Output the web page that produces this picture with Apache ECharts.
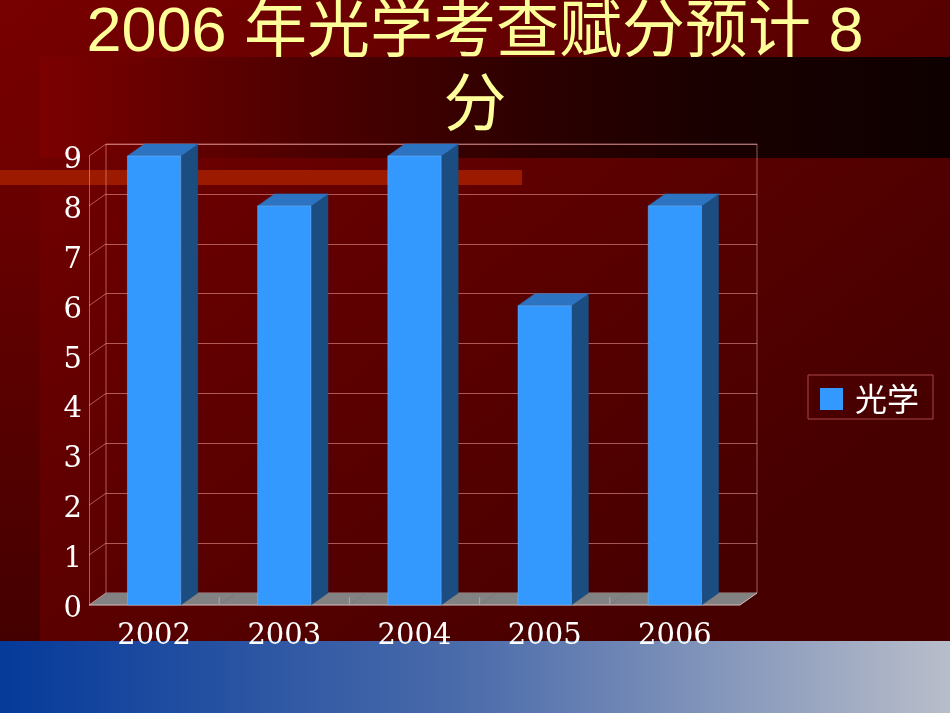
<!DOCTYPE html>
<html>
<head>
<meta charset="utf-8">
<script src="https://cdn.jsdelivr.net/npm/echarts@6/dist/echarts.min.js"></script>
<style>
html,body{margin:0;padding:0;background:#5a0000;}
#c{width:950px;height:713px;}
</style>
</head>
<body>
<div id="c"></div>
<script>
var titleText = '2006 年光学考查赋分预计 8\n分';
var categories = ['2002', '2003', '2004', '2005', '2006'];
var values = [9, 8, 9, 6, 8];
var seriesName = '光学';
var yTicks = [0, 1, 2, 3, 4, 5, 6, 7, 8, 9];

var DX = 17, DY = -12;
var gridLine = 'rgba(255,175,175,0.5)';

var chart = echarts.init(document.getElementById('c'), null, {renderer: 'canvas'});

function bgGraphics() {
  return [
    {type: 'rect', z: -10, silent: true, shape: {x: 0, y: 0, width: 950, height: 713},
      style: {fill: new echarts.graphic.LinearGradient(0, 0, 0.6, 1, [
        {offset: 0, color: '#780000'}, {offset: 1, color: '#460000'}])}},
    {type: 'rect', z: -9, silent: true, shape: {x: 0, y: 185, width: 40, height: 456},
      style: {fill: new echarts.graphic.LinearGradient(0, 0, 0, 1, [
        {offset: 0, color: '#6a0000'}, {offset: 1, color: '#440000'}])}},
    {type: 'rect', z: -9, silent: true, shape: {x: 40, y: 57, width: 910, height: 101},
      style: {fill: new echarts.graphic.LinearGradient(0, 0, 1, 0, [
        {offset: 0, color: '#7c0000'}, {offset: 0.3, color: '#4c0000'},
        {offset: 0.55, color: '#2c0000'}, {offset: 0.73, color: '#1a0000'},
        {offset: 1, color: '#0e0000'}])}},
    {type: 'rect', z: -9, silent: true, shape: {x: 0, y: 170, width: 522, height: 15},
      style: {fill: '#9c1a00'}},
    {type: 'rect', z: -9, silent: true, shape: {x: 0, y: 641, width: 950, height: 72},
      style: {fill: new echarts.graphic.LinearGradient(0, 0, 1, 0, [
        {offset: 0, color: '#053a9a'}, {offset: 0.5, color: '#4d6dab'},
        {offset: 1, color: '#b8bdca'}])}}
  ];
}

var option = {
  animation: false,
  graphic: bgGraphics(),
  title: {
    text: titleText,
    left: 'center',
    top: -3,
    padding: 0,
    textStyle: {
      color: '#FFFF99',
      fontSize: 63,
      lineHeight: 74,
      fontWeight: 'normal',
      fontFamily: '"Liberation Sans", "Noto Sans CJK SC", sans-serif'
    }
  },
  legend: {
    orient: 'vertical',
    left: 808,
    top: 375,
    padding: [8, 14, 4, 12],
    borderColor: '#a84848',
    borderWidth: 1,
    itemWidth: 23,
    itemHeight: 22,
    icon: 'rect',
    data: [seriesName],
    textStyle: {
      color: '#ffffff',
      fontSize: 32,
      padding: [0, 0, 0, 7],
      fontFamily: '"Noto Sans CJK SC", sans-serif'
    }
  },
  grid: [
    {left: 89, right: 210, top: 156, bottom: 108},
    {left: 106, right: 193, top: 144, bottom: 120, show: true,
      borderColor: gridLine, borderWidth: 1, backgroundColor: 'transparent'}
  ],
  xAxis: [
    {type: 'category', gridIndex: 0, data: categories,
      axisLine: {show: false}, axisTick: {show: false},
      axisLabel: {color: '#ffffff', fontSize: 29, margin: 17,
        fontFamily: '"DejaVu Serif", serif'}},
    {type: 'category', gridIndex: 1, data: categories, show: false}
  ],
  yAxis: [
    {type: 'value', gridIndex: 0, min: 0, max: 9, interval: 1,
      axisLine: {show: true, lineStyle: {color: gridLine}},
      axisTick: {show: false}, splitLine: {show: false},
      axisLabel: {margin: 7, formatter: '{a|{value}}',
        rich: {a: {color: '#ffffff', fontSize: 29, padding: [9, 0, 0, 0],
          fontFamily: '"DejaVu Serif", serif'}}}},
    {type: 'value', gridIndex: 1, min: 0, max: 9, interval: 1,
      axisLine: {show: false}, axisTick: {show: false}, axisLabel: {show: false},
      splitLine: {show: true, lineStyle: {color: gridLine, width: 1}}}
  ],
  series: [
    {
      type: 'custom', name: 'floor', xAxisIndex: 0, yAxisIndex: 0, z: 1, silent: true,
      data: categories.map(function (c, i) { return [i, 0]; }),
      renderItem: function (params, api) {
        var i = api.value(0);
        var p = api.coord([i, 0]);
        var bw = api.size([1, 0])[0];
        var l = p[0] - bw / 2, r = p[0] + bw / 2, y0 = p[1];
        var kids = [
          {type: 'polygon', shape: {points: [[l, y0], [r, y0], [r + DX, y0 + DY], [l + DX, y0 + DY]]},
            style: {fill: '#828282', stroke: '#828282', lineWidth: 0.6}},
          {type: 'line', shape: {x1: l, y1: y0, x2: r, y2: y0},
            style: {stroke: 'rgba(235,200,200,0.8)', lineWidth: 1}}
        ];
        if (i > 0) {
          kids.push({type: 'line', shape: {x1: l, y1: y0, x2: l, y2: y0 - 8},
            style: {stroke: '#a8a8a8', lineWidth: 1}});
        }
        if (i === categories.length - 1) {
          kids.push({type: 'line', shape: {x1: r, y1: y0, x2: r + DX, y2: y0 + DY},
            style: {stroke: 'rgba(235,200,200,0.8)', lineWidth: 1}});
        }
        return {type: 'group', children: kids};
      }
    },
    {
      type: 'custom', name: 'ticks', xAxisIndex: 0, yAxisIndex: 0, z: 1, silent: true,
      data: yTicks.map(function (v) { return [0, v]; }),
      renderItem: function (params, api) {
        var y = api.coord([0, api.value(1)])[1];
        var x = params.coordSys.x;
        return {type: 'line', shape: {x1: x, y1: y, x2: x + DX, y2: y + DY},
          style: {stroke: gridLine, lineWidth: 1}};
      }
    },
    {
      type: 'custom', name: seriesName, xAxisIndex: 0, yAxisIndex: 0, z: 3,
      itemStyle: {color: '#3399ff'},
      data: values.map(function (v, i) { return [i, v]; }),
      encode: {x: 0, y: 1},
      renderItem: function (params, api) {
        var i = api.value(0), v = api.value(1);
        var top = api.coord([i, v]);
        var bot = api.coord([i, 0]);
        var w = api.size([1, 0])[0] * 0.41;
        var l = top[0] - w / 2, r = top[0] + w / 2, yt = top[1], yb = bot[1];
        return {
          type: 'group',
          children: [
            {type: 'polygon', shape: {points: [[r, yt], [r + DX, yt + DY], [r + DX, yb + DY], [r, yb]]},
              style: {fill: '#1c4d80', stroke: '#1c4d80', lineWidth: 0.5}},
            {type: 'polygon', shape: {points: [[l, yt], [l + DX, yt + DY], [r + DX, yt + DY], [r, yt]]},
              style: {fill: '#2c74c2', stroke: '#2c74c2', lineWidth: 0.5}},
            {type: 'rect', shape: {x: l, y: yt, width: w, height: yb - yt},
              style: {fill: '#3399ff', stroke: 'rgba(160,200,240,0.6)', lineWidth: 0.6}}
          ]
        };
      }
    }
  ]
};
chart.setOption(option);
</script>
</body>
</html>
